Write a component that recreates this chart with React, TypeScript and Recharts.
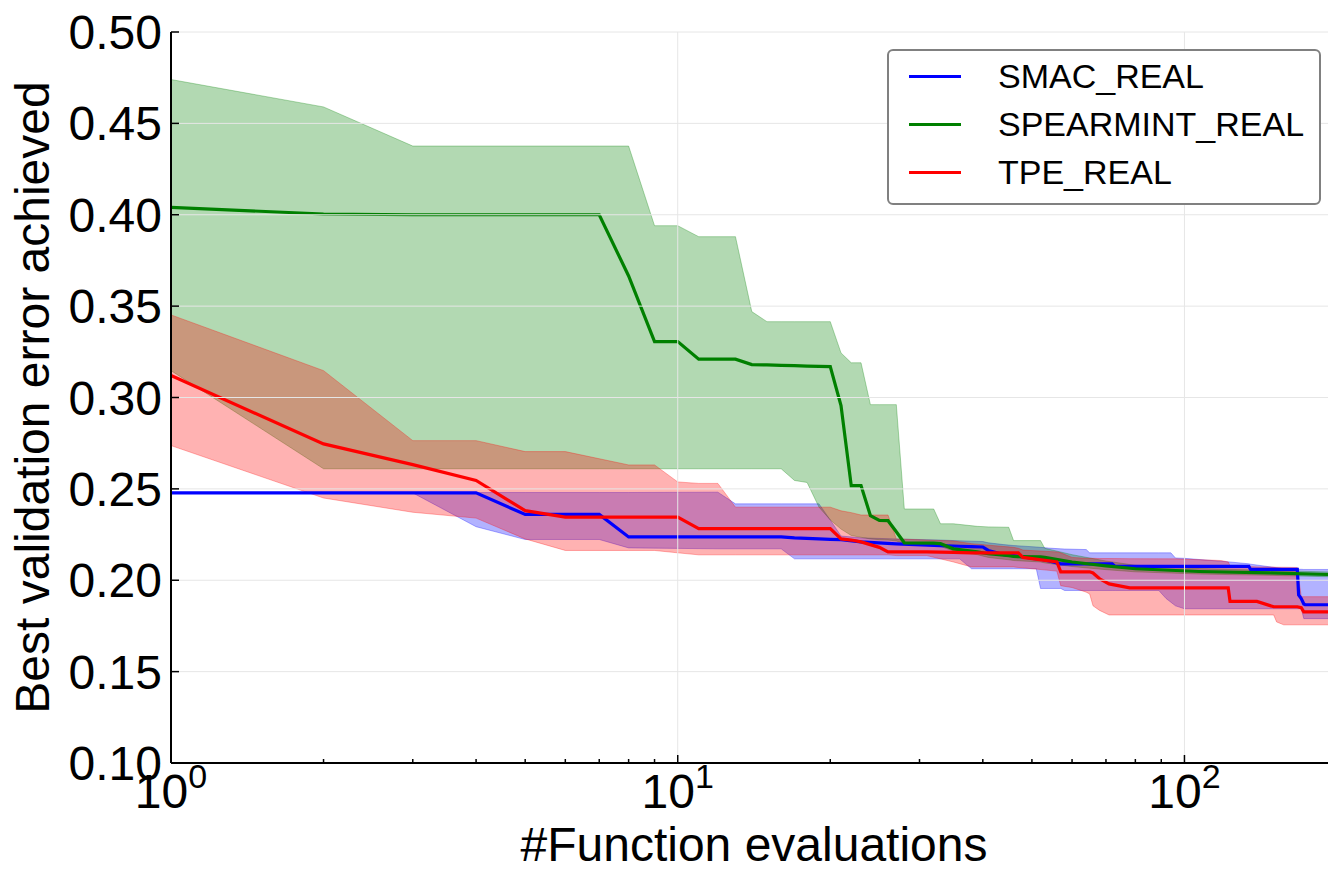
import React from "react";
import {
  ComposedChart,
  Area,
  Line,
  XAxis,
  YAxis,
  ReferenceLine,
  Legend,
} from "recharts";

// ---------- data ----------
const smacX = [1, 3, 4, 5, 7, 8, 12, 13, 16, 17, 19, 20, 21, 23, 27, 33, 36, 38, 40, 41, 44, 46, 51, 52, 54, 57, 58, 64, 65, 72, 73, 89, 92, 94, 96, 100, 123, 134, 135, 157, 167, 168, 170, 172, 173, 200];
const smacMean = [0.2478, 0.2478, 0.2478, 0.236, 0.236, 0.2237, 0.2237, 0.2237, 0.2237, 0.2232, 0.2226, 0.2224, 0.2222, 0.221, 0.2199, 0.219, 0.2186, 0.2184, 0.2182, 0.2163, 0.214, 0.2135, 0.2117, 0.2115, 0.2105, 0.209, 0.209, 0.209, 0.209, 0.209, 0.2076, 0.2076, 0.2076, 0.2076, 0.2076, 0.2076, 0.2076, 0.2076, 0.2059, 0.2059, 0.2059, 0.192, 0.19, 0.187, 0.1866, 0.1866];
const smacLo = [0.2478, 0.2478, 0.2293, 0.2223, 0.2223, 0.2177, 0.2172, 0.2172, 0.2172, 0.2117, 0.2117, 0.2117, 0.2117, 0.2117, 0.2117, 0.2117, 0.2117, 0.2063, 0.2063, 0.2063, 0.2063, 0.2063, 0.2063, 0.1955, 0.1955, 0.1955, 0.1944, 0.1944, 0.1944, 0.1944, 0.1944, 0.1944, 0.19, 0.188, 0.186, 0.1844, 0.1844, 0.1844, 0.1844, 0.1844, 0.1844, 0.1844, 0.1844, 0.179, 0.179, 0.179];
const smacHi = [0.2478, 0.2478, 0.248, 0.248, 0.248, 0.248, 0.2482, 0.2418, 0.2418, 0.2418, 0.2418, 0.233, 0.2242, 0.2232, 0.2226, 0.222, 0.2216, 0.2214, 0.2212, 0.2205, 0.2195, 0.219, 0.2182, 0.218, 0.2176, 0.2172, 0.2171, 0.2168, 0.215, 0.215, 0.215, 0.215, 0.215, 0.215, 0.2122, 0.212, 0.21, 0.209, 0.2088, 0.2063, 0.206, 0.206, 0.206, 0.2059, 0.2059, 0.2059];

const spearX = [1, 2, 3, 7, 8, 9, 10, 11, 13, 14, 15, 16, 17, 18, 19, 20, 21, 22, 23, 24, 25, 26, 27, 28, 32, 33, 35, 39, 41, 45, 46, 52, 53, 60, 70, 80, 107, 147, 200];
const spearMean = [0.404, 0.4004, 0.4, 0.4, 0.3665, 0.3306, 0.3306, 0.321, 0.321, 0.318, 0.3178, 0.3176, 0.3174, 0.3172, 0.317, 0.3169, 0.2956, 0.2518, 0.2518, 0.2354, 0.2327, 0.2326, 0.2265, 0.2205, 0.2203, 0.22, 0.2172, 0.2155, 0.2145, 0.2135, 0.213, 0.2128, 0.2125, 0.21, 0.2079, 0.2063, 0.2048, 0.204, 0.203];
const spearLo = [0.3147, 0.261, 0.261, 0.261, 0.261, 0.261, 0.261, 0.261, 0.261, 0.261, 0.261, 0.261, 0.2546, 0.2535, 0.24, 0.233, 0.228, 0.2245, 0.2235, 0.2226, 0.2222, 0.222, 0.2215, 0.22, 0.219, 0.2185, 0.216, 0.214, 0.2125, 0.2112, 0.2108, 0.21, 0.2095, 0.2075, 0.2058, 0.2046, 0.2034, 0.2027, 0.2018];
const spearHi = [0.474, 0.459, 0.4376, 0.4376, 0.4376, 0.394, 0.394, 0.388, 0.388, 0.347, 0.3415, 0.3415, 0.3415, 0.3415, 0.3415, 0.3415, 0.3244, 0.319, 0.319, 0.2961, 0.2961, 0.2961, 0.2961, 0.239, 0.239, 0.2309, 0.2309, 0.2295, 0.2292, 0.229, 0.2217, 0.2217, 0.2175, 0.214, 0.2105, 0.2082, 0.2064, 0.2054, 0.2044];

const tpeX = [1, 2, 3, 4, 5, 6, 8, 9, 10, 11, 12, 13, 20, 21, 22, 23, 25, 26, 27, 31, 35, 38, 46, 47, 48, 56, 57, 60, 64, 65, 66, 68, 71, 78, 96, 118, 122, 123, 139, 150, 152, 157, 167, 170, 172, 200];
const tpeMean = [0.312, 0.2746, 0.2633, 0.2546, 0.2381, 0.2345, 0.2345, 0.2345, 0.2345, 0.2282, 0.2282, 0.2282, 0.2282, 0.2226, 0.222, 0.221, 0.218, 0.2155, 0.2155, 0.2155, 0.2152, 0.215, 0.215, 0.215, 0.2125, 0.21, 0.2046, 0.2046, 0.2046, 0.2046, 0.204, 0.2008, 0.198, 0.1958, 0.1958, 0.1958, 0.1958, 0.1884, 0.1884, 0.1855, 0.1855, 0.1855, 0.1855, 0.185, 0.1827, 0.1827];
const tpeLo = [0.2737, 0.245, 0.2372, 0.234, 0.2226, 0.2163, 0.2163, 0.2163, 0.215, 0.2139, 0.2139, 0.2139, 0.2139, 0.2139, 0.2139, 0.2139, 0.2139, 0.2139, 0.2135, 0.2135, 0.21, 0.2073, 0.2073, 0.207, 0.2068, 0.205, 0.197, 0.196, 0.1935, 0.1925, 0.186, 0.1835, 0.181, 0.181, 0.181, 0.181, 0.181, 0.181, 0.181, 0.181, 0.1772, 0.1756, 0.1756, 0.1756, 0.1756, 0.1756];
const tpeHi = [0.3452, 0.3147, 0.2764, 0.2764, 0.2704, 0.2704, 0.2631, 0.2631, 0.2538, 0.253, 0.253, 0.24, 0.24, 0.238, 0.237, 0.2357, 0.2357, 0.2357, 0.2226, 0.222, 0.2215, 0.22, 0.218, 0.2175, 0.2165, 0.2155, 0.215, 0.2125, 0.212, 0.212, 0.212, 0.2119, 0.2119, 0.2118, 0.2117, 0.2108, 0.21, 0.208, 0.2073, 0.2072, 0.2071, 0.2071, 0.207, 0.191, 0.191, 0.191];

const seriesNames = ["SMAC_REAL", "SPEARMINT_REAL", "TPE_REAL"];
const seriesColors = ["#0000ff", "#008000", "#ff0000"];

const xTicks = [1, 2, 3, 4, 5, 6, 7, 8, 9, 10, 20, 30, 40, 50, 60, 70, 80, 90, 100, 200];
const xMajor = [1, 10, 100];
const yTicks = [0.1, 0.15, 0.2, 0.25, 0.3, 0.35, 0.4, 0.45, 0.5];

const xLabel = "#Function evaluations";
const yLabel = "Best validation error achieved";

const build = (xs: number[], mean: number[], lo: number[], hi: number[]) =>
  xs.map((x, i) => ({ x, mean: mean[i], band: [lo[i], hi[i]] }));

const smacData = build(smacX, smacMean, smacLo, smacHi);
const spearData = build(spearX, spearMean, spearLo, spearHi);
const tpeData = build(tpeX, tpeMean, tpeLo, tpeHi);
const allData = [smacData, spearData, tpeData];

const FONT = "'Liberation Sans', Arial, Helvetica, sans-serif";

// ---------- ticks ----------
const isMajor = (v: number) => xMajor.some((m) => Math.abs(m - v) < 1e-9);

const BottomTick = (props: any) => {
  const { x, y, payload } = props;
  const v = payload.value;
  const major = isMajor(v);
  const len = major ? 8 : 4;
  const exp = Math.round(Math.log10(v));
  return (
    <g>
      <line x1={x} x2={x} y1={y} y2={y - len} stroke="#000" strokeWidth={1.5} />
      {major && (
        <text x={x} y={y + 45} textAnchor="middle" fontSize={48} fontFamily={FONT} fill="#000">
          10
          <tspan fontSize={34} dy={-20}>
            {exp}
          </tspan>
        </text>
      )}
    </g>
  );
};

const TopTick = (props: any) => {
  const { x, y, payload } = props;
  const len = isMajor(payload.value) ? 8 : 4;
  return <line x1={x} x2={x} y1={y} y2={y + len} stroke="#000" strokeWidth={1.5} />;
};

const LeftTick = (props: any) => {
  const { x, y, payload } = props;
  return (
    <g>
      <line x1={x} x2={x + 8} y1={y} y2={y} stroke="#000" strokeWidth={1.5} />
      <text x={x - 9} y={y + 17} textAnchor="end" fontSize={48} fontFamily={FONT} fill="#000">
        {Number(payload.value).toFixed(2)}
      </text>
    </g>
  );
};

const LegendBox = (props: any) => {
  const payload = (props.payload || []).filter(
    (p: any) => p.type !== "none" && seriesNames.includes(p.value)
  );
  return (
    <div
      style={{
        position: "relative",
        width: 434,
        height: 156,
        boxSizing: "border-box",
        border: "2px solid #808080",
        borderRadius: 6,
        background: "#fff",
        fontFamily: FONT,
      }}
    >
      {payload.map((p: any, i: number) => (
        <React.Fragment key={p.value}>
          <div
            style={{
              position: "absolute",
              left: 20,
              top: 25 + 48 * i - 1.5,
              width: 52,
              height: 3,
              background: p.color,
            }}
          />
          <div
            style={{
              position: "absolute",
              left: 109,
              top: 25 + 48 * i - 17,
              fontSize: 34,
              lineHeight: "34px",
              color: "#000",
              whiteSpace: "nowrap",
            }}
          >
            {p.value}
          </div>
        </React.Fragment>
      ))}
    </div>
  );
};

export default function App() {
  return (
    <div
      style={{
        position: "absolute",
        left: 0,
        top: 0,
        width: 1328,
        height: 878,
        overflow: "hidden",
        background: "#fff",
      }}
    >
      <ComposedChart width={1347} height={878} margin={{ top: 32, right: 10, bottom: 0, left: 0 }}>
        <XAxis
          xAxisId="bottom"
          dataKey="x"
          type="number"
          scale="log"
          domain={[1, 200]}
          allowDataOverflow
          ticks={xTicks}
          interval={0}
          orientation="bottom"
          height={115}
          tickSize={0}
          tickMargin={0}
          tickLine={false}
          axisLine={{ stroke: "#000", strokeWidth: 2 }}
          tick={(p: any) => <BottomTick {...p} />}
          label={(p: any) => {
            const vb = p.viewBox || {};
            return (
              <text
                x={vb.x + vb.width / 2}
                y={vb.y + 98}
                textAnchor="middle"
                fontSize={48}
                fontFamily={FONT}
                fill="#000"
              >
                {xLabel}
              </text>
            );
          }}
        />
        <XAxis
          xAxisId="top"
          dataKey="x"
          type="number"
          scale="log"
          domain={[1, 200]}
          allowDataOverflow
          ticks={xTicks}
          interval={0}
          orientation="top"
          height={0}
          tickSize={0}
          tickMargin={0}
          tickLine={false}
          axisLine={{ stroke: "#000", strokeWidth: 2 }}
          tick={(p: any) => <TopTick {...p} />}
        />
        <YAxis
          yAxisId="left"
          type="number"
          domain={[0.1, 0.5]}
          allowDataOverflow
          ticks={yTicks}
          interval={0}
          width={171}
          tickSize={0}
          tickMargin={0}
          tickLine={false}
          axisLine={{ stroke: "#000", strokeWidth: 2 }}
          tick={(p: any) => <LeftTick {...p} />}
          label={(p: any) => {
            const vb = p.viewBox || {};
            const cx = 49;
            const cy = vb.y + vb.height / 2;
            return (
              <text
                x={cx}
                y={cy}
                transform={`rotate(-90, ${cx}, ${cy})`}
                textAnchor="middle"
                fontSize={48}
                fontFamily={FONT}
                fill="#000"
              >
                {yLabel}
              </text>
            );
          }}
        />

        {allData.map((d, i) => (
          <Area
            key={"band" + i}
            xAxisId="bottom"
            yAxisId="left"
            data={d}
            dataKey="band"
            name={seriesNames[i] + " band"}
            type="linear"
            stroke={seriesColors[i]}
            strokeOpacity={0.3}
            strokeWidth={1}
            fill={seriesColors[i]}
            fillOpacity={0.3}
            isAnimationActive={false}
            dot={false}
            activeDot={false}
            legendType="none"
          />
        ))}
        {allData.map((d, i) => (
          <Line
            key={"line" + i}
            xAxisId="bottom"
            yAxisId="left"
            data={d}
            dataKey="mean"
            name={seriesNames[i]}
            type="linear"
            stroke={seriesColors[i]}
            strokeWidth={3.2}
            dot={false}
            activeDot={false}
            isAnimationActive={false}
          />
        ))}

        {yTicks.slice(1).map((t) => (
          <ReferenceLine key={"gy" + t} xAxisId="bottom" yAxisId="left" y={t} stroke="#e6e6e6" strokeWidth={1} />
        ))}
        {xMajor.slice(1).map((t) => (
          <ReferenceLine key={"gx" + t} xAxisId="bottom" yAxisId="left" x={t} stroke="#e6e6e6" strokeWidth={1} />
        ))}

        <Legend
          layout="horizontal"
          verticalAlign="middle"
          align="center"
          content={(p: any) => <LegendBox {...p} />}
          wrapperStyle={{ position: "absolute", left: 887, top: 49, width: 434, height: 156 }}
        />
      </ComposedChart>
    </div>
  );
}
